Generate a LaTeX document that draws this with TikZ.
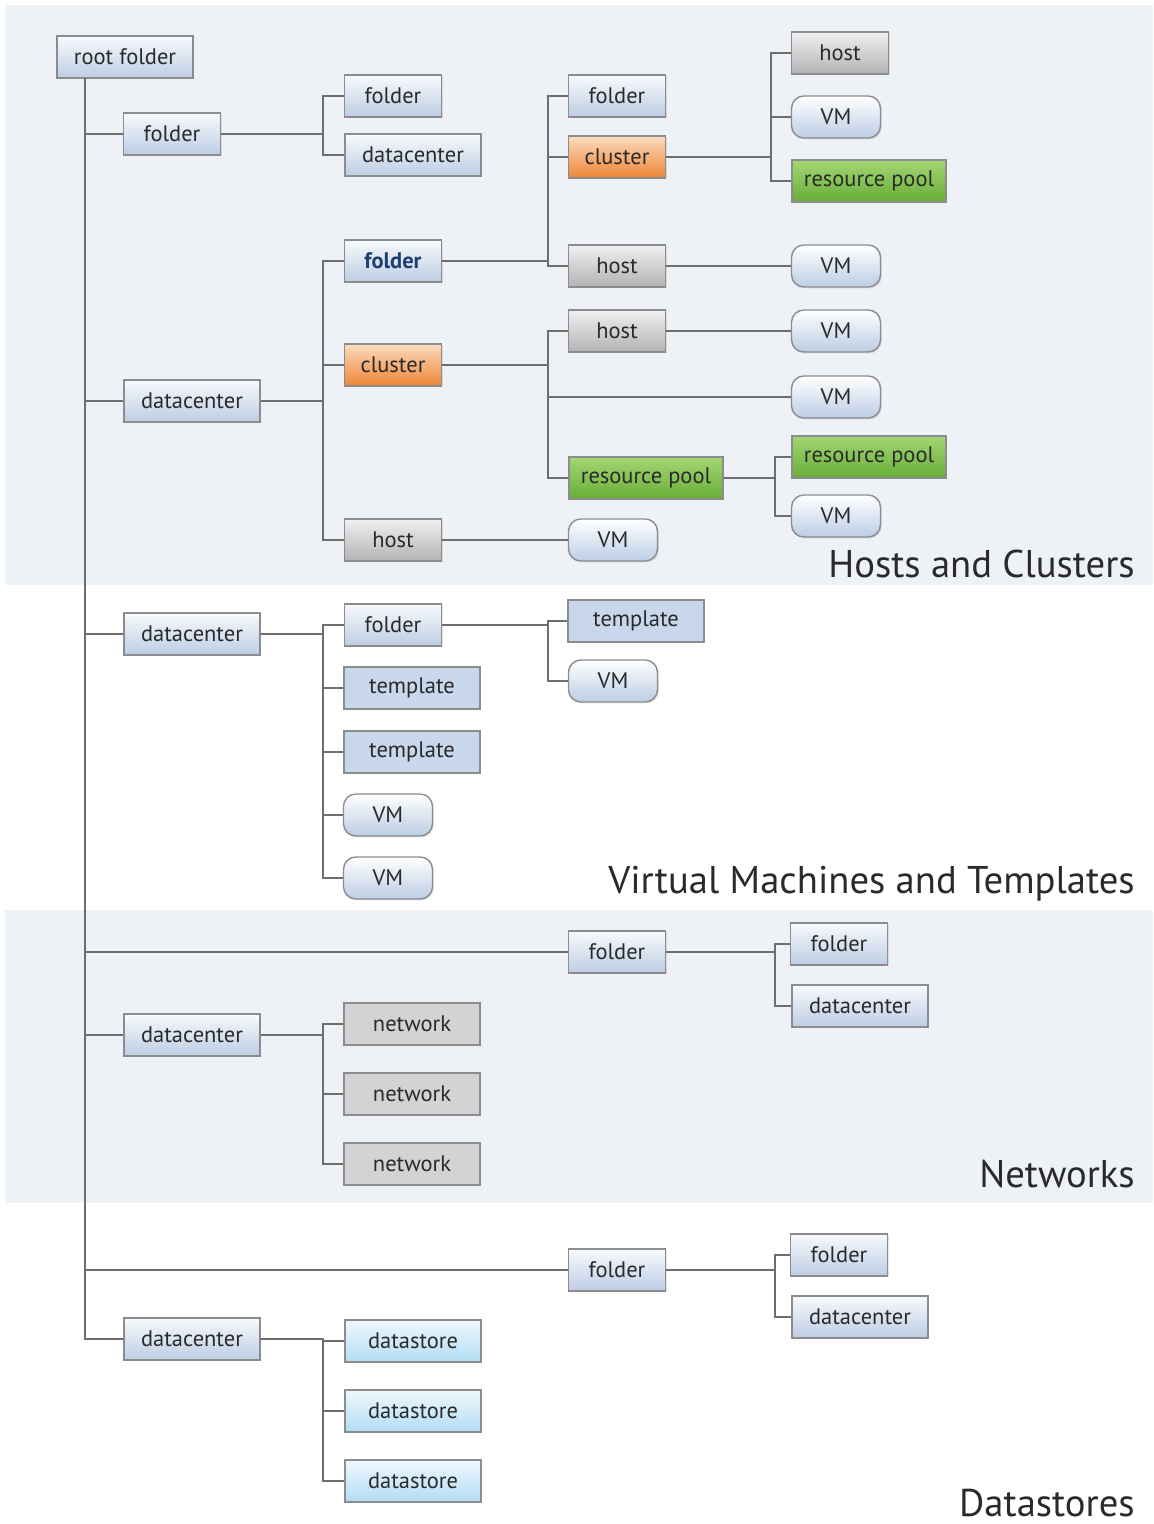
\documentclass[tikz,border=0pt]{standalone}
\usepackage{fontspec}
\setmainfont{PT Sans}
\usetikzlibrary{shadows}
\definecolor{band}{HTML}{EEF1F6}
\definecolor{edge}{HTML}{8C8C8C}
\definecolor{wire}{HTML}{6E6E6E}
\definecolor{ink}{HTML}{2A2A2A}
\definecolor{bluetop}{HTML}{F8FAFD}
\definecolor{bluebot}{HTML}{BCCDE4}
\definecolor{graytop}{HTML}{F0F0F0}
\definecolor{graybot}{HTML}{B3B3B3}
\definecolor{orangetop}{HTML}{FBDCC0}
\definecolor{orangebot}{HTML}{EE8433}
\definecolor{greentop}{HTML}{A3D673}
\definecolor{greenbot}{HTML}{68AD38}
\definecolor{tmpl}{HTML}{C8D7EB}
\definecolor{netgray}{HTML}{D3D3D3}
\definecolor{dstop}{HTML}{EFF8FD}
\definecolor{dsbot}{HTML}{B3DCF4}
\definecolor{selblue}{HTML}{1E3F73}
\tikzset{
  box/.style={draw=edge, line width=0.8pt, minimum height=0.84cm, inner sep=0pt,
    text=ink, font=\fontsize{12.8}{14}\selectfont,
    drop shadow={shadow xshift=0.8pt, shadow yshift=-0.8pt, opacity=0.2}},
  short/.style={minimum width=1.94cm},
  wide/.style={minimum width=2.72cm},
  obj/.style={box, top color=bluetop, bottom color=bluebot},
  hst/.style={box, short, top color=graytop, bottom color=graybot},
  clu/.style={box, short, top color=orangetop, bottom color=orangebot},
  rp/.style={box, minimum width=3.08cm, top color=greentop, bottom color=greenbot},
  vm/.style={box, minimum width=1.78cm, rounded corners=7pt, top color=white, bottom color=bluebot},
  tpl/.style={box, wide, fill=tmpl},
  net/.style={box, wide, fill=netgray},
  ds/.style={box, wide, top color=dstop, bottom color=dsbot},
  link/.style={draw=wire, line width=0.8pt},
  heavy/.style={draw=wire, line width=1.6pt},
  bandtitle/.style={anchor=base east, inner sep=0pt, text=ink, font=\fontsize{22}{26}\selectfont}
}
\newcommand{\Branch}[4][link]{% style, parent, bracket, child
  \draw[#1] (#2.east) -- (#2.east -| #3) |- (#4.west);
}

\begin{document}
\begin{tikzpicture}[x=0.02cm, y=-0.02cm]
  \useasboundingbox (0,0) rectangle (1153,1524);
  % bands
  \fill[band] (5,5) rectangle (1153,585);
  \fill[band] (5,910) rectangle (1153,1203);
  \coordinate (b1) at (323,0);
  \coordinate (b2) at (548,0);
  \coordinate (b3) at (771,0);
  \coordinate (b4) at (775,0);

  \node[obj, wide] (root) at (125,57) {root folder};
  \coordinate (trunk) at (85,78);

  % Hosts and Clusters
  \node[obj, short] (fA) at (172,134) {folder};
  \node[obj, short] (fA1) at (393,96) {folder};
  \node[obj, wide] (dcA1) at (413,155) {datacenter};
  \node[obj, wide] (dcH) at (192,401) {datacenter};
  \node[obj, short, text=selblue, font=\fontsize{12.8}{14}\selectfont\bfseries] (fH) at (393,261) {folder};
  \node[obj, short] (fH1) at (617,96) {folder};
  \node[clu] (cH1) at (617,157) {cluster};
  \node[hst] (hH1) at (840,53) {host};
  \node[vm] (vH1) at (836,117) {VM};
  \node[rp] (rH1) at (869,181) {resource pool};
  \node[hst] (hH2) at (617,266) {host};
  \node[vm] (vH2) at (836,266) {VM};
  \node[clu] (cH) at (393,365) {cluster};
  \node[hst] (hC1) at (617,331) {host};
  \node[vm] (vC1) at (836,331) {VM};
  \node[vm] (vC2) at (836,397) {VM};
  \node[rp] (rC) at (646,478) {resource pool};
  \node[rp] (rC1) at (869,457) {resource pool};
  \node[vm] (vC3) at (836,516) {VM};
  \node[hst] (hH) at (393,540) {host};
  \node[vm] (vH) at (613,540) {VM};
  \node[bandtitle] (tHC) at (1135,577) {Hosts and Clusters};

  % Virtual Machines and Templates
  \node[obj, wide] (dcV) at (192,634) {datacenter};
  \node[obj, short] (fV) at (393,625) {folder};
  \node[tpl] (tV1) at (636,621) {template};
  \node[vm] (vV1) at (613,681) {VM};
  \node[tpl] (tV2) at (412,688) {template};
  \node[tpl] (tV3) at (412,752) {template};
  \node[vm] (vV2) at (388,815) {VM};
  \node[vm] (vV3) at (388,878) {VM};
  \node[bandtitle] (tVM) at (1135,893) {Virtual Machines and Templates};

  % Networks
  \node[obj, short] (fN) at (617,952) {folder};
  \node[obj, short] (fN1) at (839,944) {folder};
  \node[obj, wide] (dcN1) at (860,1006) {datacenter};
  \node[obj, wide] (dcN) at (192,1035) {datacenter};
  \node[net] (nN1) at (412,1024) {network};
  \node[net] (nN2) at (412,1094) {network};
  \node[net] (nN3) at (412,1164) {network};
  \node[bandtitle] (tNW) at (1135,1187) {Networks};

  % Datastores
  \node[obj, short] (fD) at (617,1270) {folder};
  \node[obj, short] (fD1) at (839,1255) {folder};
  \node[obj, wide] (dcD1) at (860,1317) {datacenter};
  \node[obj, wide] (dcD) at (192,1339) {datacenter};
  \node[ds] (sD1) at (413,1341) {datastore};
  \node[ds] (sD2) at (413,1411) {datastore};
  \node[ds] (sD3) at (413,1481) {datastore};
  \node[bandtitle] (tDS) at (1135,1516) {Datastores};

  % trunk
  \draw[link, line width=1.2pt] (trunk) |- (dcD.west);
  \foreach \n in {fA, dcV, fN, fD}
    \draw[link] (trunk |- \n.west) -- (\n.west);
  \foreach \n in {dcH, dcN}
    \draw[heavy] (trunk |- \n.west) -- (\n.west);

  % links
  \Branch{fA}{b1}{fA1}
  \Branch{fA}{b1}{dcA1}
  \foreach \c in {fH, cH, hH}
    {\Branch[heavy]{dcH}{b1}{\c}}
  \foreach \c in {fH1, cH1, hH2}
    {\Branch[heavy]{fH}{b2}{\c}}
  \foreach \c in {hH1, vH1, rH1}
    {\Branch[heavy]{cH1}{b3}{\c}}
  \draw[heavy] (hH2) -- (vH2);
  \foreach \c in {hC1, vC2, rC}
    {\Branch[heavy]{cH}{b2}{\c}}
  \draw[heavy] (hC1) -- (vC1);
  \foreach \c in {rC1, vC3}
    {\Branch[heavy]{rC}{b4}{\c}}
  \draw[heavy] (hH) -- (vH);

  \foreach \c in {fV, tV2, tV3, vV2, vV3}
    {\Branch{dcV}{b1}{\c}}
  \foreach \c in {tV1, vV1}
    {\Branch{fV}{b2}{\c}}

  \foreach \c in {fN1, dcN1}
    {\Branch{fN}{b4}{\c}}
  \foreach \c in {nN1, nN2, nN3}
    {\Branch[heavy]{dcN}{b1}{\c}}

  \foreach \c in {fD1, dcD1}
    {\Branch{fD}{b4}{\c}}
  \foreach \c in {sD1, sD2, sD3}
    {\Branch{dcD}{b1}{\c}}
\end{tikzpicture}
\end{document}
